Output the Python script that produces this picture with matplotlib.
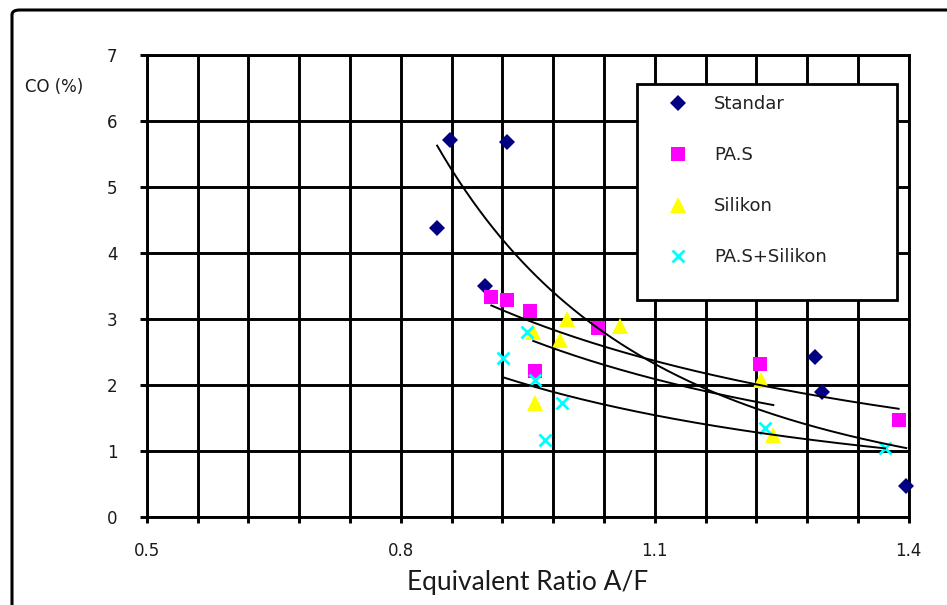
import numpy as np
import matplotlib
matplotlib.use("Agg")
import matplotlib.pyplot as plt
from matplotlib.patches import Rectangle, FancyBboxPatch

# ---- data ----
std_x = [0.858, 0.925, 0.843, 0.8995, 1.289, 1.297, 1.397]
std_y = [5.72, 5.68, 4.39, 3.51, 2.43, 1.90, 0.47]
pas_x = [0.907, 0.926, 0.953, 1.033, 0.9585, 1.224, 1.388]
pas_y = [3.34, 3.30, 3.12, 2.87, 2.21, 2.33, 1.48]
sil_x = [0.996, 1.059, 0.988, 0.9565, 0.9585, 1.226, 1.240]
sil_y = [3.00, 2.90, 2.69, 2.81, 1.73, 2.08, 1.25]
ps_x = [0.949, 0.921, 0.9585, 0.990, 0.970, 1.230, 1.372]
ps_y = [2.81, 2.41, 2.08, 1.73, 1.17, 1.35, 1.05]

series_names = ["Standar", "PA.S", "Silikon", "PA.S+Silikon"]
x_ticks = [0.5, 0.56, 0.62, 0.68, 0.74, 0.8, 0.86, 0.92, 0.98, 1.04,
           1.1, 1.16, 1.22, 1.28, 1.34, 1.4]
x_tick_labels = ["0.5", "", "", "", "", "0.8", "", "", "", "",
                 "1.1", "", "", "", "", "1.4"]
y_ticks = [0, 1, 2, 3, 4, 5, 6, 7]
y_tick_labels = ["0", "1", "2", "3", "4", "5", "6", "7"]
x_label = "Equivalent Ratio A/F"
y_label = "CO (%)"

W, H = 947, 605
fig = plt.figure(figsize=(W / 100, H / 100), dpi=100)
fig.patch.set_facecolor("white")

def fx(px):
    return px / W

def fy(py):
    return 1 - py / H

ax = fig.add_axes([fx(146.7), fy(517.4), fx(908.8) - fx(146.7), fy(55.2) - fy(517.4)])
ax.set_xlim(0.5, 1.4)
ax.set_ylim(0, 7)
ax.set_xticks(x_ticks)
ax.set_xticklabels(x_tick_labels)
ax.set_yticks(y_ticks)
ax.set_yticklabels(y_tick_labels)
ax.grid(True, color="black", linewidth=2.1)
ax.set_axisbelow(True)
for s in ax.spines.values():
    s.set_color("black")
    s.set_linewidth(2.1)
ax.tick_params(axis="x", direction="out", length=4, width=2.1, pad=14,
               labelsize=12, labelcolor="#1a1a1a")
ax.tick_params(axis="y", direction="out", length=5, width=2.1, pad=16,
               labelsize=12, labelcolor="#1a1a1a")

# markers
styles = [
    dict(marker="D", color="#000080", ms=8.5, mew=0),
    dict(marker="s", color="#FF00FF", ms=10, mew=0),
    dict(marker="^", color="#FFFF00", ms=11, mew=0),
    dict(marker="x", color="#00FFFF", ms=8, mew=2),
]
data = [(std_x, std_y), (pas_x, pas_y), (sil_x, sil_y), (ps_x, ps_y)]
handles = []
for (xs, ys), st, name in zip(data, styles, series_names):
    h, = ax.plot(xs, ys, linestyle="none", marker=st["marker"], color=st["color"],
                 markersize=st["ms"], markeredgewidth=st["mew"], zorder=3,
                 label=name, clip_on=False)
    handles.append(h)

# power trendlines (least-squares fit in log-log space, like spreadsheet trendlines)
for xs, ys in data:
    lx, ly = np.log(xs), np.log(ys)
    b, lna = np.polyfit(lx, ly, 1)
    xx = np.linspace(min(xs), max(xs), 200)
    ax.plot(xx, np.exp(lna) * xx ** b, color="black", linewidth=1.4, zorder=4)

ax.set_xlabel(x_label, family="Lato", fontsize=19, color="#1a1a1a", labelpad=7)
fig.text(fx(25), fy(87), y_label, fontsize=12, color="#1a1a1a", va="center", ha="left")

# legend frame
fig.patches.append(Rectangle((fx(637), fy(300)), fx(897) - fx(637), fy(84) - fy(300),
                             transform=fig.transFigure, facecolor="white",
                             edgecolor="black", linewidth=2.0, zorder=5))
leg = fig.legend(handles=handles, labels=series_names, loc="upper left",
                 bbox_to_anchor=(fx(669), fy(95)), bbox_transform=fig.transFigure,
                 frameon=False, fontsize=13, borderpad=0, handlelength=1.0,
                 handletextpad=1.5, labelspacing=1.83, numpoints=1, borderaxespad=0)
leg.set_zorder(6)
for t in leg.get_texts():
    t.set_color("#222222")

# outer chart border (top and left visible)
fig.patches.append(FancyBboxPatch((fx(12), fy(640)), fx(1000), fy(10) - fy(640),
                                  boxstyle="round,pad=0,rounding_size=0.008",
                                  transform=fig.transFigure, facecolor="none",
                                  edgecolor="black", linewidth=2.2, zorder=10,
                                  clip_on=False))

fig.savefig("out.png", dpi=100)
